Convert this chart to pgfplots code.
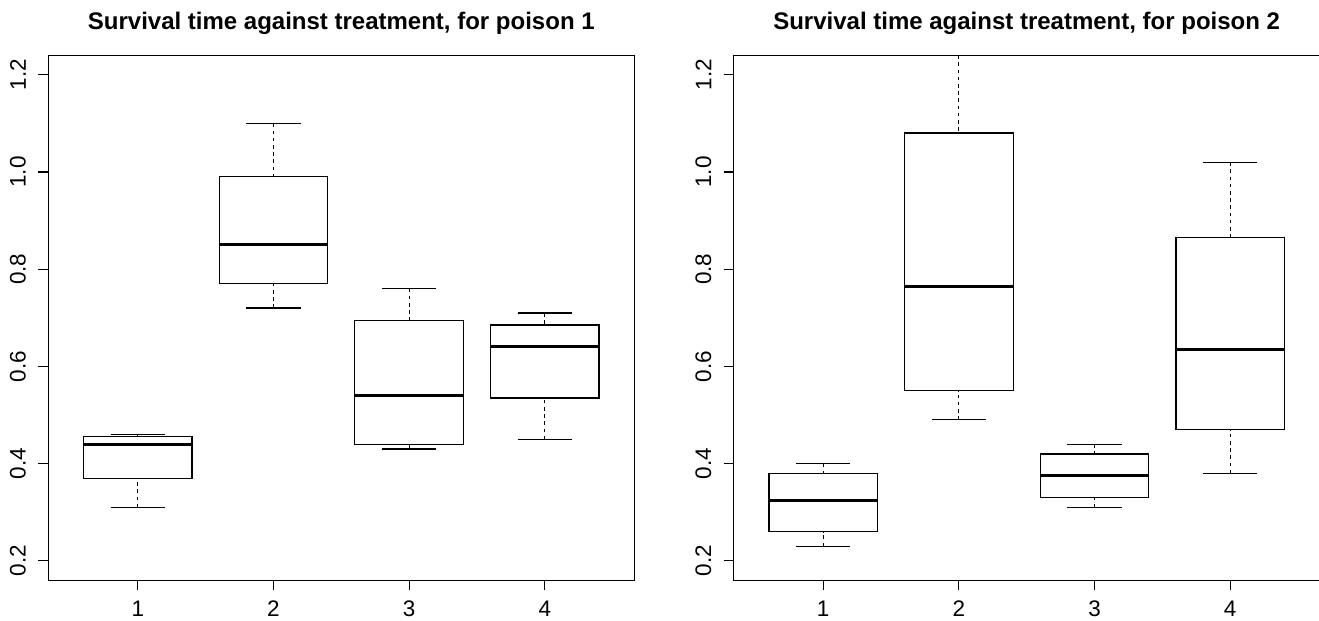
\documentclass[border=0pt]{standalone}
\usepackage{fontspec}
\setmainfont{Liberation Sans}
\usepackage{pgfplots}
\pgfplotsset{compat=1.18}
\usepgfplotslibrary{statistics}

% R-style boxplot: dashed whisker stem, solid cap
\pgfplotsset{
  rbox/.style={
    width=293pt, height=262.5pt, scale only axis,
    xmin=0.34, xmax=4.66, ymin=0.16, ymax=1.24,
    xtick={1,2,3,4}, ytick={0.2,0.4,0.6,0.8,1.0,1.2},
    tick align=outside, xtick pos=bottom, ytick pos=left,
    major tick length=5pt,
    axis line style={line width=0.6pt},
    every tick/.style={black, line width=0.6pt},
    /pgf/number format/assume math mode=true,
    tick label style={font=\fontsize{11.25}{13}\selectfont, inner sep=0pt},
    xticklabel style={anchor=north, yshift=-5pt},
    yticklabel style={/pgf/number format/.cd, fixed, fixed zerofill, precision=1,
      /tikz/.cd, xshift=-6pt, rotate=90, anchor=south},
    title style={font=\fontsize{12}{14}\selectfont\bfseries,
      at={(0.5,1)}, anchor=center, yshift=10pt},
    boxplot/draw direction=y,
    boxplot/box extend=0.8,
    boxplot/whisker extend=0.4,
    boxplot/every box/.style={line width=0.6pt},
    boxplot/every median/.style={line width=1.5pt},
    boxplot/draw/lower whisker/.code={
      \draw[black, line width=0.6pt, dash pattern=on 1.8pt off 1.8pt]
        (boxplot box cs:\pgfplotsboxplotvalue{lower whisker},0.5) --
        (boxplot box cs:\pgfplotsboxplotvalue{lower quartile},0.5);
      \draw[black, line width=0.6pt]
        (boxplot whisker cs:\pgfplotsboxplotvalue{lower whisker},0) --
        (boxplot whisker cs:\pgfplotsboxplotvalue{lower whisker},1);
    },
    boxplot/draw/upper whisker/.code={
      \draw[black, line width=0.6pt, dash pattern=on 1.8pt off 1.8pt]
        (boxplot box cs:\pgfplotsboxplotvalue{upper whisker},0.5) --
        (boxplot box cs:\pgfplotsboxplotvalue{upper quartile},0.5);
      \draw[black, line width=0.6pt]
        (boxplot whisker cs:\pgfplotsboxplotvalue{upper whisker},0) --
        (boxplot whisker cs:\pgfplotsboxplotvalue{upper whisker},1);
    },
  },
  rb/.style={black, line width=0.6pt, solid, mark=none},
}

\begin{document}
\begin{tikzpicture}
\useasboundingbox (0,0) rectangle (659.5pt,310.5pt);

\begin{axis}[rbox, at={(24.15pt,20.35pt)}, anchor=south west,
  title={Survival time against treatment, for poison 1}]
\addplot[rb, boxplot prepared={draw position=1, lower whisker=0.31,
  lower quartile=0.37, median=0.44, upper quartile=0.455, upper whisker=0.46}]
  coordinates {};
\addplot[rb, boxplot prepared={draw position=2, lower whisker=0.72,
  lower quartile=0.77, median=0.85, upper quartile=0.99, upper whisker=1.10}]
  coordinates {};
\addplot[rb, boxplot prepared={draw position=3, lower whisker=0.43,
  lower quartile=0.44, median=0.54, upper quartile=0.695, upper whisker=0.76}]
  coordinates {};
\addplot[rb, boxplot prepared={draw position=4, lower whisker=0.45,
  lower quartile=0.535, median=0.64, upper quartile=0.685, upper whisker=0.71}]
  coordinates {};
\end{axis}

\begin{axis}[rbox, at={(366.85pt,20.35pt)}, anchor=south west,
  title={Survival time against treatment, for poison 2}]
\addplot[rb, boxplot prepared={draw position=1, lower whisker=0.23,
  lower quartile=0.26, median=0.325, upper quartile=0.38, upper whisker=0.40}]
  coordinates {};
\addplot[rb, boxplot prepared={draw position=2, lower whisker=0.49,
  lower quartile=0.55, median=0.765, upper quartile=1.08, upper whisker=1.24}]
  coordinates {};
\addplot[rb, boxplot prepared={draw position=3, lower whisker=0.31,
  lower quartile=0.33, median=0.375, upper quartile=0.42, upper whisker=0.44}]
  coordinates {};
\addplot[rb, boxplot prepared={draw position=4, lower whisker=0.38,
  lower quartile=0.47, median=0.635, upper quartile=0.865, upper whisker=1.02}]
  coordinates {};
\end{axis}
\end{tikzpicture}
\end{document}
